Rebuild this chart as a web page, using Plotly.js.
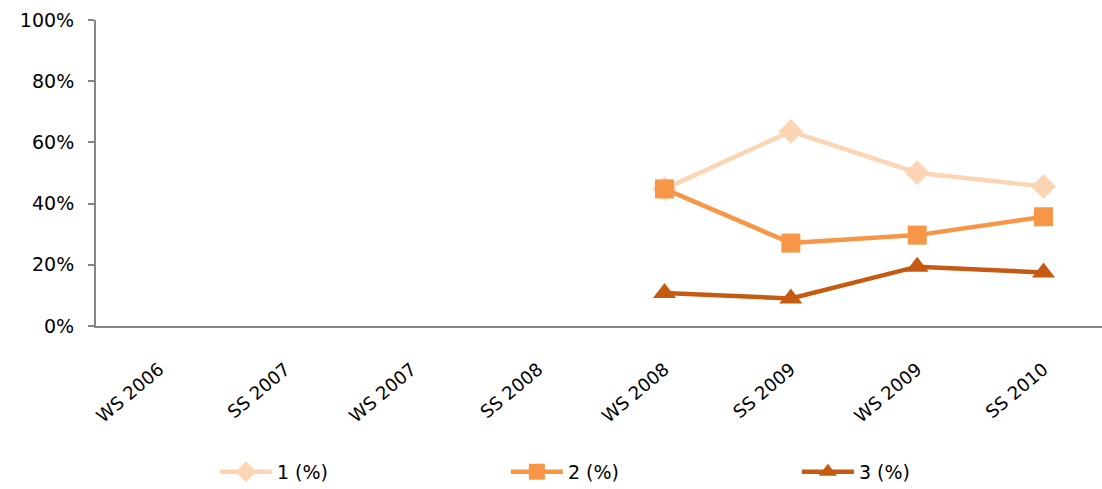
<!DOCTYPE html>
<html>
<head>
<meta charset="utf-8">
<script src="https://cdn.plot.ly/plotly-3.0.1.min.js"></script>
<style>html,body{margin:0;padding:0;background:#fff}#chart{width:1102px;height:489px}</style>
</head>
<body>
<div id="chart"></div>
<script>
const categories = ["WS 2006", "SS 2007", "WS 2007", "SS 2008", "WS 2008", "SS 2009", "WS 2009", "SS 2010"];
const series1 = [null, null, null, null, 44.8, 63.6, 50.1, 45.6];
const series2 = [null, null, null, null, 44.8, 27.1, 29.7, 35.7];
const series3 = [null, null, null, null, 10.8, 9.0, 19.4, 17.5];
const seriesNames = ["1 (%)", "2 (%)", "3 (%)"];
const colors = ["#FCD5B5", "#F79646", "#C55A11"];
const symbols = ["diamond", "square", "triangle-up"];
const sizes = [19, 19, 20];

const data = [series1, series2, series3].map((vals, i) => ({
  x: categories,
  y: vals,
  name: seriesNames[i],
  type: "scatter",
  mode: "lines+markers",
  line: {color: colors[i], width: 4.5},
  marker: {color: colors[i], symbol: symbols[i], size: sizes[i]},
  connectgaps: false
}));

const layout = {
  width: 1102, height: 489,
  margin: {l: 96, r: 0, t: 20, b: 163},
  paper_bgcolor: "#fff", plot_bgcolor: "#fff",
  showlegend: true,
  font: {family: "DejaVu Sans, Verdana, sans-serif", color: "#000"},
  xaxis: {
    type: "category",
    range: [-0.5, 7.463],
    automargin: false,
    showgrid: false, zeroline: false,
    showline: true, linecolor: "#868686", linewidth: 2,
    ticks: "",
    tickangle: -40,
    tickfont: {size: 18, family: "DejaVu Sans, Verdana, sans-serif"},
    ticklabelstandoff: 24
  },
  yaxis: {
    range: [0, 100],
    automargin: false,
    tickvals: [0, 20, 40, 60, 80, 100],
    ticktext: ["0%", "20%", "40%", "60%", "80%", "100%"],
    showgrid: false, zeroline: false,
    showline: true, linecolor: "#868686", linewidth: 2,
    ticks: "outside", ticklen: 6, tickcolor: "#868686", tickwidth: 2,
    tickfont: {size: 19, family: "DejaVu Sans, Verdana, sans-serif"},
    ticklabelstandoff: 10
  },
  legend: {
    orientation: "h",
    xref: "container", yref: "container",
    x: 0.195, xanchor: "left",
    y: 0.035, yanchor: "middle",
    font: {size: 19, family: "DejaVu Sans, Verdana, sans-serif"},
    entrywidth: 224,
    itemwidth: 52
  }
};

Plotly.newPlot("chart", data, layout, {displayModeBar: false, staticPlot: true});
</script>
</body>
</html>
